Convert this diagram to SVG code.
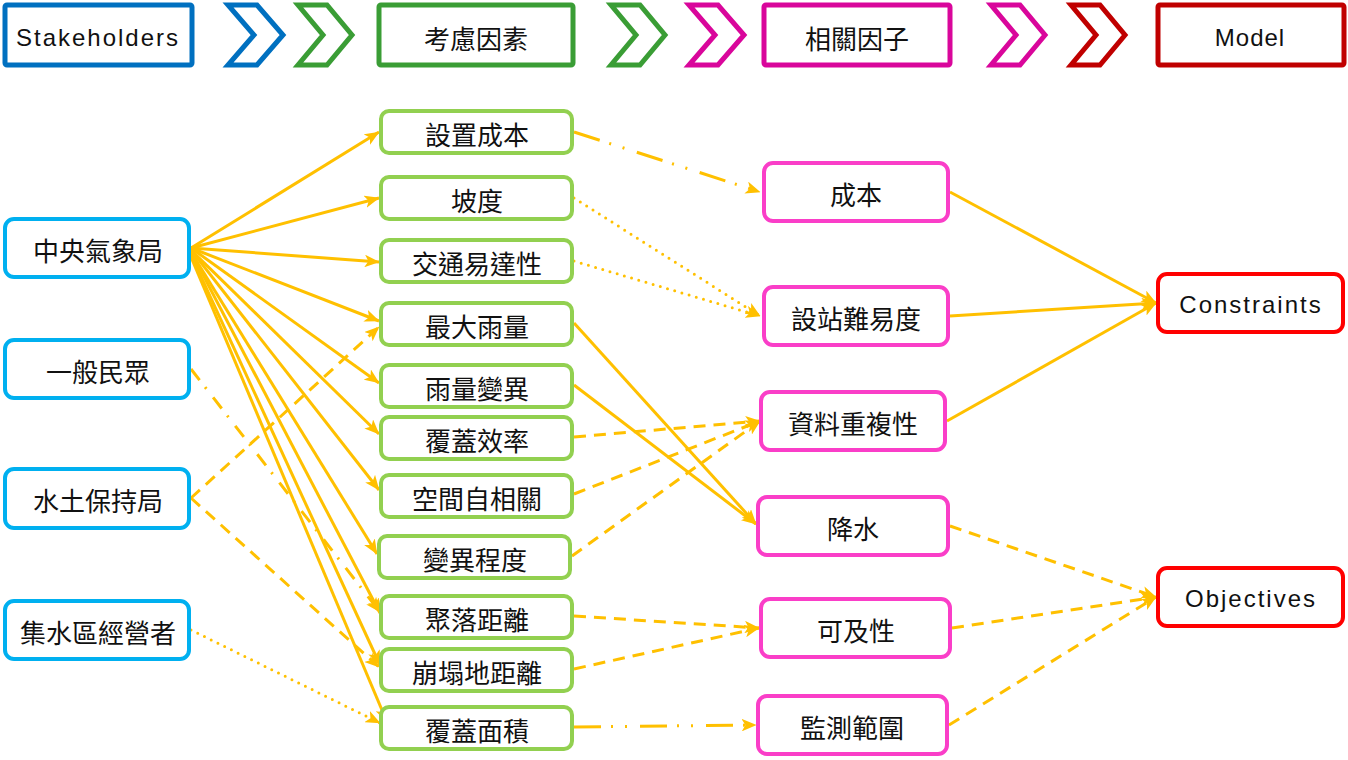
<svg xmlns="http://www.w3.org/2000/svg" width="1348" height="760" viewBox="0 0 1348 760">
<style>
.hb{fill:#fff;stroke-width:5}
.ch{fill:#fff;stroke-width:5;stroke-linejoin:miter}
.blue{stroke:#0070C0}.green{stroke:#3A9D35}.mag{stroke:#D9069B}.dred{stroke:#C00000}
.sh rect{fill:#fff;stroke:#00B0F0;stroke-width:4}
.fa rect{fill:#fff;stroke:#92D050;stroke-width:4}
.rf rect{fill:#fff;stroke:#FA3EC8;stroke-width:4}
.md rect{fill:#fff;stroke:#FF0000;stroke-width:4}
.t{font-family:"Noto Sans CJK TC","Noto Sans CJK SC",sans-serif;font-size:26px;text-anchor:middle;dominant-baseline:central;fill:#111}
.e{font-family:"Liberation Sans","DejaVu Sans",sans-serif;font-size:24px;text-anchor:middle;dominant-baseline:central;fill:#111;letter-spacing:2px}
#connectors path{fill:none;stroke:#FFC000;stroke-width:3;marker-end:url(#ah)}
.d{stroke-dasharray:12 8}
.o{stroke-dasharray:0 7.5;stroke-linecap:round;stroke-width:4px}
.dd{stroke-dasharray:27 10 2 12 2 13}
.dt{stroke-dasharray:14 9 2 11}
</style>
<defs>
<marker id="ah" viewBox="0 0 12 10" refX="11.5" refY="5" markerWidth="15" markerHeight="12.5" orient="auto" markerUnits="userSpaceOnUse">
<path d="M0,0 L12,5 L0,10 L3,5 z" fill="#FFC000"/>
</marker>
</defs>
<rect width="1348" height="760" fill="#fff"/>

<g id="header">
<rect class="hb blue" x="5" y="5" width="187" height="60" rx="2"/>
<text class="e" x="98" y="37">Stakeholders</text>
<polygon class="ch blue" points="228,5 257,5 283,35 257,65 228,65 254,35"/>
<polygon class="ch green" points="298,5 327,5 352,35 327,65 298,65 323,35"/>
<rect class="hb green" x="379" y="5" width="194" height="60" rx="2"/>
<text class="t" x="476" y="37">考慮因素</text>
<polygon class="ch green" points="611,5 640,5 665,35 640,65 611,65 636,35"/>
<polygon class="ch mag" points="689,5 718,5 744,35 718,65 689,65 715,35"/>
<rect class="hb mag" x="764" y="5" width="186" height="60" rx="2"/>
<text class="t" x="857" y="37">相關因子</text>
<polygon class="ch mag" points="991,5 1020,5 1045,35 1020,65 991,65 1016,35"/>
<polygon class="ch dred" points="1071,5 1100,5 1125,35 1100,65 1071,65 1096,35"/>
<rect class="hb dred" x="1158" y="5" width="186" height="60" rx="2"/>
<text class="e" x="1250" y="37" style="letter-spacing:1px">Model</text>
</g>

<g id="connectors">
<path d="M191,248 L379,132"/>
<path d="M191,248 L379,198"/>
<path d="M191,248 L379,262"/>
<path d="M191,248 L379,321"/>
<path d="M191,248 L379,383"/>
<path d="M191,250 L379,434"/>
<path d="M191,250 L379,490"/>
<path d="M191,252 L377,554"/>
<path d="M191,252 L380,613"/>
<path d="M191,255 L380,665"/>
<path d="M191,257 L387,722"/>
<path class="dt" d="M191,369 L380,612"/>
<path class="d" d="M191,498 L379,327"/>
<path class="d" d="M191,498 L379,667"/>
<path class="o" d="M191,630 L380,723"/>

<path class="dd" d="M574,132 L760,192"/>
<path class="o" d="M574,198 L760,316"/>
<path class="o" d="M574,261 L760,316"/>
<path d="M574,323 L756,524"/>
<path d="M574,385 L756,524"/>
<path class="d" d="M574,437 L760,421"/>
<path class="d" d="M574,494 L760,421"/>
<path class="d" d="M572,556 L760,421"/>
<path class="d" d="M574,616 L759,628"/>
<path class="d" d="M574,669 L759,628"/>
<path class="dd" d="M574,727 L756,725"/>

<path d="M950,192 L1156,303"/>
<path d="M950,316 L1156,303"/>
<path d="M947,421 L1156,303"/>
<path class="d" d="M950,526 L1156,597"/>
<path class="d" d="M952,628 L1156,597"/>
<path class="d" d="M949,725 L1156,597"/>
</g>

<g id="n-cwb" class="sh"><rect x="5" y="219" width="184" height="58" rx="9"/><text class="t" x="98" y="249">中央氣象局</text></g>
<g id="n-public" class="sh"><rect x="5" y="340" width="184" height="58" rx="9"/><text class="t" x="98" y="370">一般民眾</text></g>
<g id="n-swcb" class="sh"><rect x="5" y="469" width="184" height="59" rx="9"/><text class="t" x="98" y="499">水土保持局</text></g>
<g id="n-manager" class="sh"><rect x="5" y="601" width="184" height="58" rx="9"/><text class="t" x="98" y="631">集水區經營者</text></g>

<g id="f-cost" class="fa"><rect x="381" y="111" width="191" height="42" rx="8"/><text class="t" x="477" y="133">設置成本</text></g>
<g id="f-slope" class="fa"><rect x="381" y="177" width="191" height="42" rx="8"/><text class="t" x="477" y="199">坡度</text></g>
<g id="f-access" class="fa"><rect x="381" y="240" width="191" height="42" rx="8"/><text class="t" x="477" y="262">交通易達性</text></g>
<g id="f-maxrain" class="fa"><rect x="381" y="303" width="191" height="42" rx="8"/><text class="t" x="477" y="325">最大雨量</text></g>
<g id="f-rainvar" class="fa"><rect x="381" y="365" width="191" height="42" rx="8"/><text class="t" x="477" y="387">雨量變異</text></g>
<g id="f-coveff" class="fa"><rect x="381" y="417" width="191" height="42" rx="8"/><text class="t" x="477" y="439">覆蓋效率</text></g>
<g id="f-spatial" class="fa"><rect x="381" y="475" width="191" height="42" rx="8"/><text class="t" x="477" y="497">空間自相關</text></g>
<g id="f-var" class="fa"><rect x="379" y="536" width="191" height="42" rx="8"/><text class="t" x="475" y="558">變異程度</text></g>
<g id="f-settle" class="fa"><rect x="381" y="596" width="191" height="42" rx="8"/><text class="t" x="477" y="618">聚落距離</text></g>
<g id="f-landslide" class="fa"><rect x="381" y="649" width="191" height="42" rx="8"/><text class="t" x="477" y="671">崩塌地距離</text></g>
<g id="f-area" class="fa"><rect x="381" y="707" width="191" height="42" rx="8"/><text class="t" x="477" y="729">覆蓋面積</text></g>

<g id="r-cost" class="rf"><rect x="764" y="163" width="184" height="58" rx="9"/><text class="t" x="856" y="193">成本</text></g>
<g id="r-ease" class="rf"><rect x="764" y="287" width="184" height="58" rx="9"/><text class="t" x="856" y="317">設站難易度</text></g>
<g id="r-dup" class="rf"><rect x="761" y="392" width="184" height="58" rx="9"/><text class="t" x="853" y="422">資料重複性</text></g>
<g id="r-precip" class="rf"><rect x="758" y="497" width="190" height="58" rx="9"/><text class="t" x="853" y="527">降水</text></g>
<g id="r-access" class="rf"><rect x="761" y="599" width="189" height="58" rx="9"/><text class="t" x="856" y="629">可及性</text></g>
<g id="r-range" class="rf"><rect x="758" y="696" width="189" height="58" rx="9"/><text class="t" x="852" y="726">監測範圍</text></g>

<g id="m-constraints" class="md"><rect x="1158" y="274" width="185" height="58" rx="9"/><text class="e" x="1251" y="304">Constraints</text></g>
<g id="m-objectives" class="md"><rect x="1158" y="568" width="185" height="58" rx="9"/><text class="e" x="1251" y="598">Objectives</text></g>
</svg>
